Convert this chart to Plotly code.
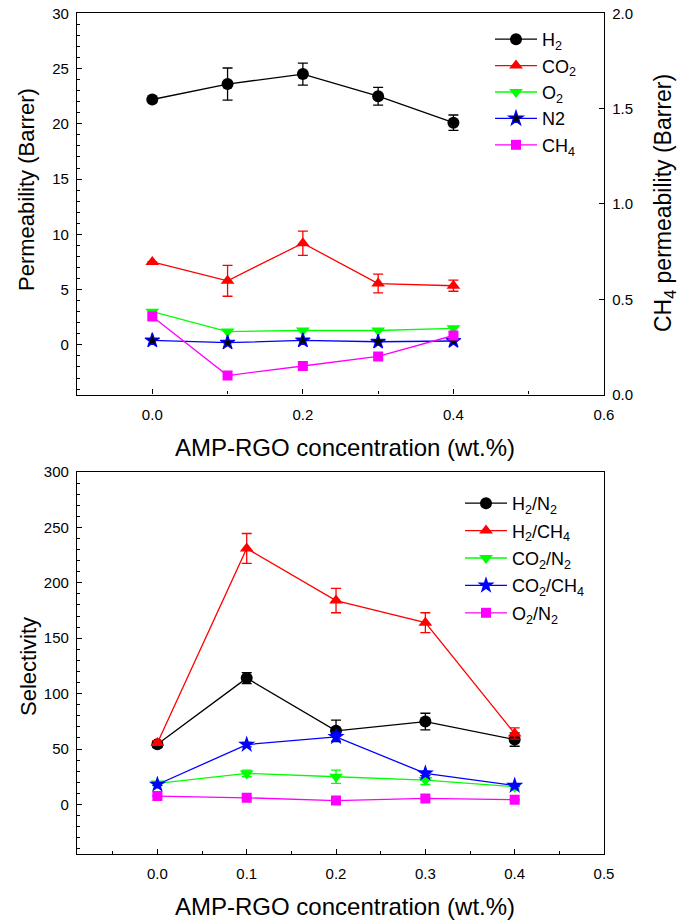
import plotly.graph_objects as go

# ---------------- data ----------------
conc = [0.0, 0.1, 0.2, 0.3, 0.4]

# permeability (Barrer)
h2 = [22.2, 23.6, 24.5, 22.5, 20.1]
h2_err = [0, 1.45, 1.0, 0.8, 0.7]
co2 = [7.5, 5.8, 9.2, 5.55, 5.35]
co2_err = [0, 1.4, 1.1, 0.85, 0.5]
o2 = [3.0, 1.2, 1.3, 1.3, 1.5]
n2 = [0.4, 0.2, 0.4, 0.28, 0.35]
ch4 = [0.41, 0.10, 0.15, 0.20, 0.31]   # right axis

# selectivity
sel_h2_n2 = [54.4, 114, 66.4, 74.8, 58.5]
sel_h2_n2_err = [3, 5, 9.7, 7.5, 6]
sel_h2_ch4 = [55.5, 231, 184, 164, 64]
sel_h2_ch4_err = [2, 13.5, 11, 9, 5]
sel_co2_n2 = [19, 28, 25, 22, 16]
sel_co2_n2_err = [1.5, 3, 6, 4, 2]
sel_co2_ch4 = [18, 54, 61, 28, 17]
sel_co2_ch4_err = [1, 2, 4, 2, 1]
sel_o2_n2 = [7.5, 6.0, 3.5, 5.4, 4.3]
sel_o2_n2_err = [0.5, 0.5, 0.5, 0.5, 0.5]

top_names = ["H<sub>2</sub>", "CO<sub>2</sub>", "O<sub>2</sub>", "N2", "CH<sub>4</sub>"]
bot_names = ["H<sub>2</sub>/N<sub>2</sub>", "H<sub>2</sub>/CH<sub>4</sub>",
             "CO<sub>2</sub>/N<sub>2</sub>", "CO<sub>2</sub>/CH<sub>4</sub>",
             "O<sub>2</sub>/N<sub>2</sub>"]

FONT = "Liberation Sans, Arial, sans-serif"
W, H = 688, 921
BLACK, RED, GREEN, BLUE, MAG = "#000000", "#FF0000", "#00FF00", "#0000FF", "#FF00FF"


def px_x(p):
    return p / W


def px_y(p):
    return 1 - p / H


fig = go.Figure()


def add(x, y, err, name, color, symbol, size, xa, ya, legend, group, mcolor=None, mline=None):
    kw = {}
    if err is not None:
        kw["error_y"] = dict(type="data", array=err, visible=True, color=color,
                             thickness=1.3, width=5)
    fig.add_trace(go.Scatter(
        x=x, y=y, name=name, mode="lines+markers",
        line=dict(color=color, width=1.3),
        marker=dict(symbol=symbol, size=size, color=mcolor or color,
                    line=dict(color=mline or color, width=1.2 if mline else 0)),
        xaxis=xa, yaxis=ya, legend=legend, legendgroup=group, **kw))


# top panel
add(conc, h2, h2_err, top_names[0], BLACK, "circle", 12, "x", "y", "legend", "t1")
add(conc, co2, co2_err, top_names[1], RED, "triangle-up", 12, "x", "y", "legend", "t2")
add(conc, o2, None, top_names[2], GREEN, "triangle-down", 12, "x", "y", "legend", "t3")
add(conc, n2, None, top_names[3], BLUE, "star", 11, "x", "y", "legend", "t4",
    mcolor=BLACK, mline=BLUE)
add(conc, ch4, None, top_names[4], MAG, "square", 10, "x", "y2", "legend", "t5")

# bottom panel
add(conc, sel_h2_n2, sel_h2_n2_err, bot_names[0], BLACK, "circle", 12, "x3", "y3", "legend2", "b1")
add(conc, sel_h2_ch4, sel_h2_ch4_err, bot_names[1], RED, "triangle-up", 12, "x3", "y3", "legend2", "b2")
add(conc, sel_co2_n2, sel_co2_n2_err, bot_names[2], GREEN, "triangle-down", 12, "x3", "y3", "legend2", "b3")
add(conc, sel_co2_ch4, sel_co2_ch4_err, bot_names[3], BLUE, "star", 13, "x3", "y3", "legend2", "b4")
add(conc, sel_o2_n2, sel_o2_n2_err, bot_names[4], MAG, "square", 10, "x3", "y3", "legend2", "b5")

axis_common = dict(showline=True, linecolor="black", linewidth=1.3, showgrid=False,
                   zeroline=False, ticks="inside", tickcolor="black", tickwidth=1,
                   ticklen=5, tickfont=dict(family=FONT, size=15, color="black"))

xdom = [px_x(77), px_x(604)]
top_dom = [px_y(394.6), px_y(13.3)]
bot_dom = [px_y(854.3), px_y(472)]

fig.update_layout(
    width=W, height=H, margin=dict(l=0, r=0, t=0, b=0, autoexpand=False),
    paper_bgcolor="white", plot_bgcolor="white",
    font=dict(family=FONT, color="black"),
    xaxis=dict(axis_common, domain=xdom, anchor="y", range=[-0.1, 0.6], dtick=0.2,
               tick0=0, tickformat=".1f", mirror=True, ticklabelstandoff=6,
               minor=dict(dtick=0.1, ticks="inside", ticklen=3, tickcolor="black")),
    yaxis=dict(axis_common, domain=top_dom, anchor="x", range=[-4.5, 30], dtick=5,
               tick0=0, ticklabelstandoff=4,
               minor=dict(dtick=1, ticks="inside", ticklen=3, tickcolor="black")),
    yaxis2=dict(axis_common, overlaying="y", side="right", anchor="x", range=[0, 2],
                dtick=0.5, tick0=0, tickformat=".1f", ticklabelstandoff=4),
    xaxis3=dict(axis_common, domain=xdom, anchor="y3", range=[-0.09, 0.5], dtick=0.1,
                tick0=0, tickformat=".1f", mirror=True, ticklabelstandoff=6,
                minor=dict(dtick=0.05, ticks="inside", ticklen=3, tickcolor="black")),
    yaxis3=dict(axis_common, domain=bot_dom, anchor="x3", range=[-45, 300], dtick=50,
                tick0=0, mirror=True, ticklabelstandoff=4,
                minor=dict(dtick=10, ticks="inside", ticklen=3, tickcolor="black")),
    legend=dict(x=px_x(490), y=px_y(21), xanchor="left", yanchor="top",
                bgcolor="rgba(0,0,0,0)", font=dict(family=FONT, size=18),
                tracegroupgap=0, itemwidth=42),
    legend2=dict(x=px_x(460), y=px_y(485), xanchor="left", yanchor="top",
                 bgcolor="rgba(0,0,0,0)", font=dict(family=FONT, size=18),
                 tracegroupgap=1, itemwidth=42),
    showlegend=True,
)

ann = dict(showarrow=False, xref="paper", yref="paper", font=dict(family=FONT, color="black"))
fig.add_annotation(ann, text="AMP-RGO concentration (wt.%)", x=px_x(345), y=px_y(447),
                   xanchor="center", yanchor="middle", font_size=24)
fig.add_annotation(ann, text="AMP-RGO concentration (wt.%)", x=px_x(345), y=px_y(906),
                   xanchor="center", yanchor="middle", font_size=24)
fig.add_annotation(ann, text="Permeability (Barrer)", x=px_x(27), y=px_y(190),
                   xanchor="center", yanchor="middle", textangle=-90, font_size=22)
fig.add_annotation(ann, text="CH<sub>4</sub> permeability (Barrer)", x=px_x(664), y=px_y(203),
                   xanchor="center", yanchor="middle", textangle=-90, font_size=23)
fig.add_annotation(ann, text="Selectivity", x=px_x(28), y=px_y(667),
                   xanchor="center", yanchor="middle", textangle=-90, font_size=22)

fig.write_html(
    "out.html",
    config={"displayModeBar": False},
    post_script="document.body.style.margin='0px';document.body.style.overflow='hidden';",
)
